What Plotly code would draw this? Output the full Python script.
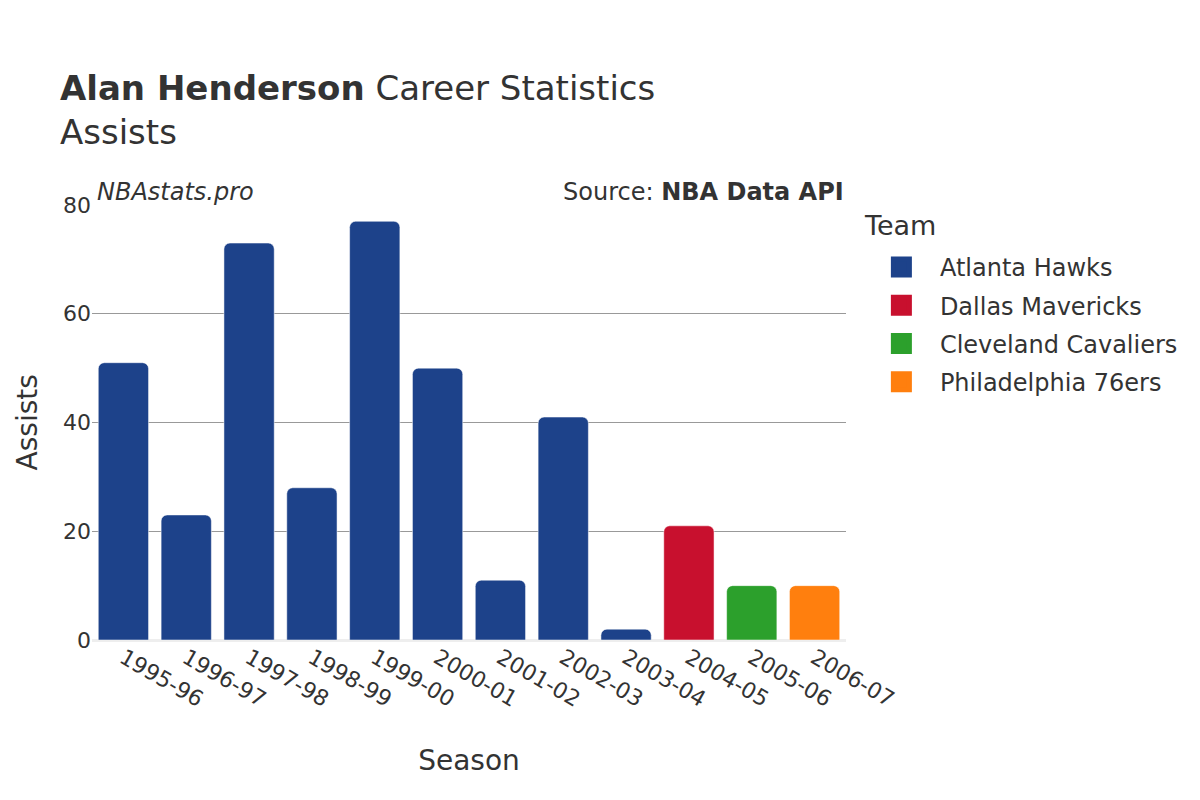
import plotly.graph_objects as go

seasons = ["1995-96", "1996-97", "1997-98", "1998-99", "1999-00", "2000-01",
           "2001-02", "2002-03", "2003-04", "2004-05", "2005-06", "2006-07"]
teams = ["Atlanta Hawks", "Atlanta Hawks", "Atlanta Hawks", "Atlanta Hawks", "Atlanta Hawks",
         "Atlanta Hawks", "Atlanta Hawks", "Atlanta Hawks", "Atlanta Hawks",
         "Dallas Mavericks", "Cleveland Cavaliers", "Philadelphia 76ers"]
assists = [51, 23, 73, 28, 77, 50, 11, 41, 2, 21, 10, 10]

team_order = ["Atlanta Hawks", "Dallas Mavericks", "Cleveland Cavaliers", "Philadelphia 76ers"]
team_colors = {"Atlanta Hawks": "#1d428a", "Dallas Mavericks": "#c8102e",
               "Cleveland Cavaliers": "#2ca02c", "Philadelphia 76ers": "#ff7f0e"}

font = "DejaVu Sans"
fig = go.Figure()
for t in team_order:
    xs = [s for s, tm in zip(seasons, teams) if tm == t]
    ys = [v for v, tm in zip(assists, teams) if tm == t]
    fig.add_trace(go.Bar(x=xs, y=ys, name=t, marker_color=team_colors[t],
                         marker_line=dict(color="rgba(255,255,255,0.5)", width=1),
                         showlegend=False, legendgroup=t))
    fig.add_trace(go.Scatter(x=[None], y=[None], mode="markers", name=t, legendgroup=t,
                             marker=dict(symbol="square", size=16, color=team_colors[t],
                                         line=dict(width=5, color=team_colors[t]))))

fig.update_layout(
    width=1200, height=800,
    barmode="overlay", bargap=0.2, barcornerradius=6,
    plot_bgcolor="white", paper_bgcolor="white",
    font=dict(family=font, color="#333", size=22),
    margin=dict(l=84, r=362, t=197, b=168),
    title=dict(text="<b>Alan Henderson</b> Career Statistics<br>Assists",
               x=0.0433, xanchor="left", y=0.885, yanchor="top",
               font=dict(size=34, family=font, color="#333")),
    legend=dict(font=dict(size=24),
                x=1.0224, y=0.908, xanchor="left", yanchor="top", itemwidth=67,
                tracegroupgap=4),
    xaxis=dict(type="category", categoryorder="array", categoryarray=seasons, tickangle=30,
               automargin=False,
               title=dict(text="Season", font=dict(size=28), standoff=39),
               tickfont=dict(size=22)),
    yaxis=dict(range=[0, 80], dtick=20, gridcolor="#999", gridwidth=1, automargin=False,
               zeroline=True, zerolinecolor="#eee", zerolinewidth=3,
               tickfont=dict(size=22)),
    annotations=[
        dict(text="Assists", x=-0.085, y=0.5, xref="paper", yref="paper",
             xanchor="center", yanchor="middle", textangle=-90, showarrow=False,
             font=dict(size=28)),
        dict(text="<i>NBAstats.pro</i>", x=0, y=1.0, xref="paper", yref="paper",
             xanchor="left", yanchor="bottom", showarrow=False, font=dict(size=24),
             xshift=3, yshift=-3),
        dict(text="Source: <b>NBA Data API</b>", x=1, y=1.0, xref="paper", yref="paper",
             xanchor="right", yanchor="bottom", showarrow=False, font=dict(size=24),
             yshift=-3),
        dict(text="Team", x=1.021, y=0.954, xref="paper", yref="paper",
             xanchor="left", yanchor="middle", showarrow=False, font=dict(size=27)),
    ],
)
fig.write_html("out.html")
